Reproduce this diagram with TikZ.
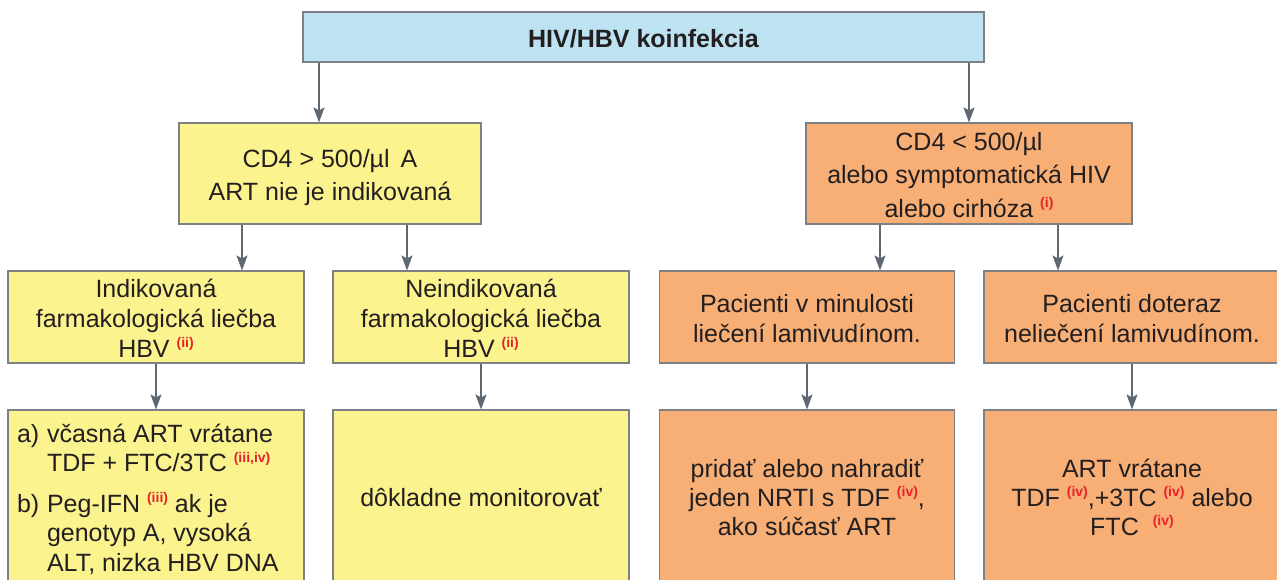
\documentclass[tikz,border=0pt]{standalone}
\usepackage{fontspec}
\setmainfont{Liberation Sans}
\usetikzlibrary{arrows.meta}

\definecolor{hivblue}{RGB}{189,227,242}
\definecolor{hivyellow}{RGB}{251,243,141}
\definecolor{hivorange}{RGB}{247,175,118}
\definecolor{boxline}{RGB}{125,128,132}
\definecolor{arrowline}{RGB}{95,104,114}
\definecolor{inkdark}{RGB}{35,31,32}
\definecolor{supred}{RGB}{232,34,43}

% red note marker such as (ii)
\newcommand\rsup[1]{\raisebox{9.5pt}{\fontsize{14}{14}\selectfont\bfseries\color{supred}(#1)}}
% centred lines: #1 = rise of the first baseline above the box centre, #2 = line pitch
\newcommand\blocktext[3]{\smash{\raisebox{#1pt}{\fontsize{25}{#2}\selectfont\begin{tabular}[t]{@{}c@{}}#3\end{tabular}}}}

\begin{document}
\begin{tikzpicture}[x=1pt,y=-1pt,
  box/.style={draw=boxline, line width=1.1pt, rectangle, inner sep=0pt,
    text=inkdark, minimum width=296pt},
  rowone/.style={box, minimum height=101pt},
  rowtwo/.style={box, minimum height=92pt},
  rowthree/.style={box, minimum height=178pt},
  arr/.style={draw=arrowline, line width=1.4pt,
    -{Stealth[length=15pt,width=11pt,inset=3pt]}}]

\useasboundingbox (0,0) rectangle (1277,579);
\clip (0,0) rectangle (1277,579);
\fill[white] (0,0) rectangle (1277,579);

% top level
\node[box, fill=hivblue, minimum width=681pt, minimum height=50pt] (root) at (643.5,37)
  {\blocktext{-10}{30}{\bfseries HIV/HBV koinfekcia}};

% CD4 split
\node[rowone, fill=hivyellow, minimum width=302pt] (cdhigh) at (330,173.5)
  {\blocktext{6.5}{33}{CD4 > 500/µl\hspace{11pt}A\\ART nie je indikovaná}};
\node[rowone, fill=hivorange, minimum width=326pt] (cdlow) at (969,173.5)
  {\blocktext{23.5}{33.5}{CD4 < 500/µl\\alebo symptomatická HIV\\alebo cirhóza \rsup{i}}};

% second row
\node[rowtwo, fill=hivyellow] (indik) at (156,317)
  {\blocktext{20}{30}{Indikovaná\\farmakologická liečba\\HBV \rsup{ii}}};
\node[rowtwo, fill=hivyellow] (neind) at (481,317)
  {\blocktext{20}{30}{Neindikovaná\\farmakologická liečba\\HBV \rsup{ii}}};
\node[rowtwo, fill=hivorange, minimum width=295pt] (prior) at (807,317)
  {\blocktext{5}{30}{Pacienti v minulosti\\liečení lamivudínom.}};
\node[rowtwo, fill=hivorange] (naive) at (1132,317)
  {\blocktext{5}{30}{Pacienti doteraz\\neliečení lamivudínom.}};

% third row
\node[rowthree, fill=hivyellow] (therapy) at (156,499)
  {\smash{\raisebox{57pt}{\makebox[278pt][l]{\fontsize{25}{29.5}\selectfont
   \begin{tabular}[t]{@{}l@{\hspace{7.8pt}}l@{}}
   a) & včasná ART vrátane\\
      & TDF + FTC/3TC \rsup{iii,iv}\\[11pt]
   b) & Peg-IFN \rsup{iii} ak je\\
      & genotyp A, vysoká\\
      & ALT, nizka HBV DNA
   \end{tabular}}}}};
\node[rowthree, fill=hivyellow] (monitor) at (481,499)
  {\blocktext{-7}{30}{dôkladne monitorovať}};
\node[rowthree, fill=hivorange, minimum width=295pt] (addtdf) at (807,499)
  {\blocktext{22}{29}{pridať alebo nahradiť\\jeden NRTI s TDF \rsup{iv},\\ako súčasť ART}};
\node[rowthree, fill=hivorange] (artreg) at (1132,499)
  {\blocktext{22}{29}{ART vrátane\\TDF \rsup{iv},+3TC \rsup{iv} alebo\\FTC\hspace{14pt}\rsup{iv}}};

% arrow columns
\coordinate (c1) at (319,0);
\coordinate (c2) at (969,0);
\coordinate (c3) at (242,0);
\coordinate (c4) at (407,0);
\coordinate (c5) at (880,0);
\coordinate (c6) at (1058,0);

\draw[arr] (root.south -| c1) -- (cdhigh.north -| c1);
\draw[arr] (root.south -| c2) -- (cdlow.north -| c2);
\draw[arr] (cdhigh.south -| c3) -- (indik.north -| c3);
\draw[arr] (cdhigh.south -| c4) -- (neind.north -| c4);
\draw[arr] (cdlow.south -| c5) -- (prior.north -| c5);
\draw[arr] (cdlow.south -| c6) -- (naive.north -| c6);
\draw[arr] (indik.south) -- (therapy.north);
\draw[arr] (neind.south) -- (monitor.north);
\draw[arr] (prior.south) -- (addtdf.north);
\draw[arr] (naive.south) -- (artreg.north);
\end{tikzpicture}
\end{document}
